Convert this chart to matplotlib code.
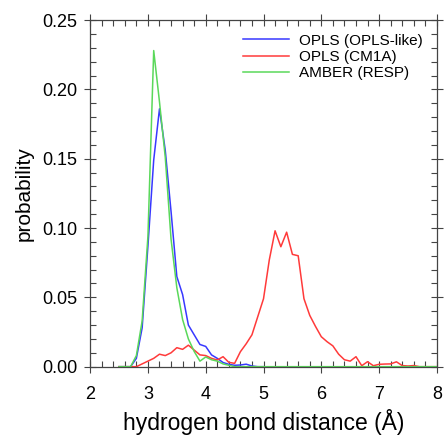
import numpy as np
import matplotlib
matplotlib.use('Agg')
import matplotlib.pyplot as plt
from matplotlib.ticker import MultipleLocator, FormatStrFormatter

plt.rcParams['font.family'] = ['Liberation Sans', 'DejaVu Sans']

# distance bins (Angstrom)
dist = np.round(np.arange(2.5, 8.01, 0.1), 1)

# OPLS (OPLS-like), 2.5 .. 5.0, zero afterwards
opls_like = [0.0, 0.0, 0.0, 0.006, 0.028, 0.087, 0.149, 0.186, 0.156, 0.112,
             0.065, 0.052, 0.030, 0.023, 0.016, 0.0146, 0.0085, 0.006, 0.003, 0.0017,
             0.001, 0.0012, 0.0018, 0.0005, 0.0, 0.0]

# OPLS (CM1A), 2.5 .. 8.0
opls_cm1a = [0.0, 0.0, 0.0, 0.0, 0.002, 0.004, 0.006, 0.009, 0.008, 0.010,
             0.0137, 0.0125, 0.0155, 0.012, 0.0085, 0.008, 0.006, 0.0048, 0.0072, 0.0031,
             0.0024, 0.0108, 0.0165, 0.023, 0.036, 0.049, 0.077, 0.098, 0.0865, 0.097,
             0.081, 0.080, 0.049, 0.037, 0.029, 0.0216, 0.018, 0.015, 0.009, 0.005,
             0.004, 0.0072, 0.0007, 0.0036, 0.0007, 0.0017, 0.0019, 0.002, 0.0035, 0.0008,
             0.0005, 0.0008, 0.0, 0.0, 0.0, 0.0]

# AMBER (RESP), 2.5 .. 8.0
amber = [0.0, 0.0, 0.0, 0.008, 0.033, 0.094, 0.228, 0.191, 0.151, 0.092,
         0.057, 0.034, 0.020, 0.011, 0.004, 0.007, 0.005, 0.004, 0.002, 0.001,
         0.0] + [0.0] * 35

n_blue = len(opls_like)

fig = plt.figure(figsize=(4.44, 4.36), dpi=100)
ax = fig.add_axes([0.203, 0.159, 0.781, 0.795])

ax.plot(dist[:n_blue], opls_like, color='#3838ff', lw=1.1, label='OPLS (OPLS-like)')
ax.plot(dist, opls_cm1a, color='#ff3a3a', lw=1.1, label='OPLS (CM1A)')
ax.plot(dist, amber, color='#5ad85a', lw=1.1, label='AMBER (RESP)')

ax.set_xlim(2, 8)
ax.set_ylim(0, 0.25)
ax.xaxis.set_major_locator(MultipleLocator(1))
ax.xaxis.set_minor_locator(MultipleLocator(0.2))
ax.yaxis.set_major_locator(MultipleLocator(0.05))
ax.yaxis.set_minor_locator(MultipleLocator(0.01))
ax.yaxis.set_major_formatter(FormatStrFormatter('%.2f'))

ax.tick_params(which='both', top=True, right=True, labelsize=13, color='#444444')
ax.tick_params(which='major', direction='inout', length=8, width=0.8, pad=5)
ax.tick_params(which='minor', direction='in', length=4, width=0.8)
ax.tick_params(axis='x', which='major', pad=10)
for s in ax.spines.values():
    s.set_color('#444444')
    s.set_linewidth(0.9)

ax.set_xlabel('hydrogen bond distance (Å)', fontsize=16.5, labelpad=4)
ax.set_ylabel('probability', fontsize=15, labelpad=6)

ax.legend(loc='upper right', frameon=False, fontsize=11, handlelength=3.0,
          handletextpad=0.7, labelspacing=0.15, borderaxespad=0.5)

fig.savefig('out.png', dpi=100)
